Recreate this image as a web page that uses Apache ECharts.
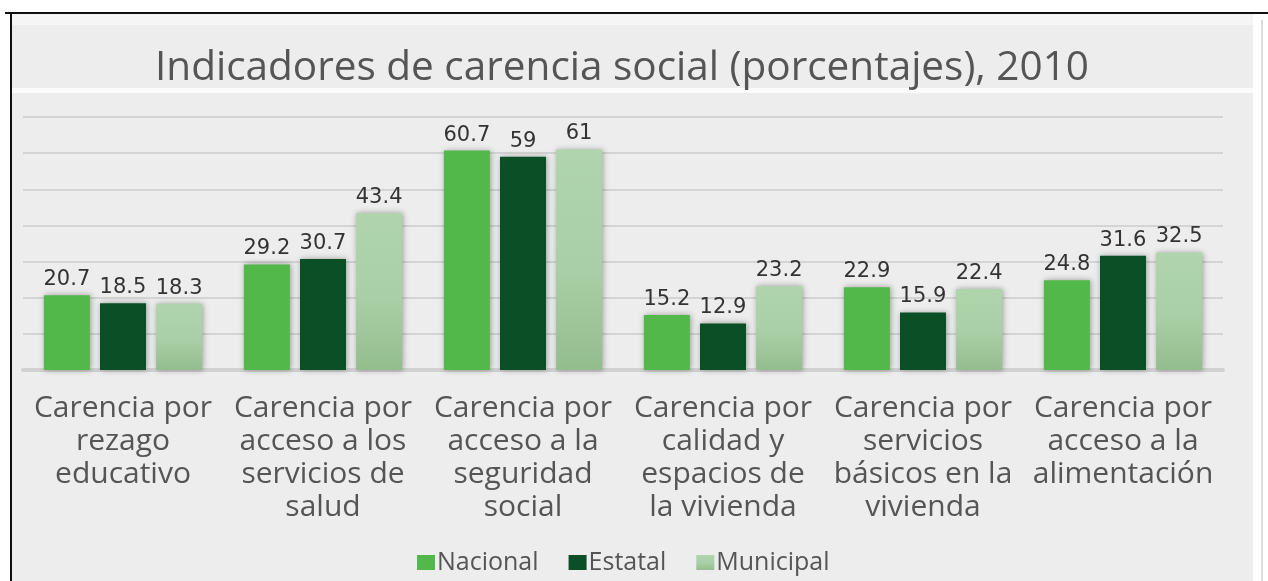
<!DOCTYPE html>
<html>
<head>
<meta charset="utf-8">
<script src="https://cdn.jsdelivr.net/npm/echarts@6/dist/echarts.min.js"></script>
<style>
html,body{margin:0;padding:0;background:#ffffff;}
#c{width:1268px;height:581px;}
</style>
</head>
<body>
<div id="c"></div>
<script>
const categories = [
  "Carencia por\nrezago\neducativo",
  "Carencia por\nacceso a los\nservicios de\nsalud",
  "Carencia por\nacceso a la\nseguridad\nsocial",
  "Carencia por\ncalidad y\nespacios de\nla vivienda",
  "Carencia por\nservicios\nbásicos en la\nvivienda",
  "Carencia por\nacceso a la\nalimentación"
];
const seriesNames = ["Nacional", "Estatal", "Municipal"];
const nacional = [20.7, 29.2, 60.7, 15.2, 22.9, 24.8];
const estatal = [18.5, 30.7, 59, 12.9, 15.9, 31.6];
const municipal = [18.3, 43.4, 61, 23.2, 22.4, 32.5];
const titleText = "Indicadores de carencia social (porcentajes), 2010";

const chart = echarts.init(document.getElementById('c'), null, {renderer: 'canvas'});

const labelStyle = {
  show: true,
  position: 'top',
  distance: 5,
  fontFamily: 'DejaVu Sans',
  fontSize: 21,
  color: '#333333'
};
const shadow = {shadowColor: 'rgba(0,0,0,0.35)', shadowBlur: 6, shadowOffsetX: 1, shadowOffsetY: 0};

chart.setOption({
  backgroundColor: '#ffffff',
  animation: false,
  graphic: [
    {type: 'rect', z: -10, shape: {x: 12, y: 14, width: 1241, height: 567}, style: {fill: '#ecedec'}},
    {type: 'rect', z: -9, shape: {x: 12, y: 14, width: 1241, height: 11}, style: {fill: '#f4f5f4'}},
    {type: 'rect', z: -9, shape: {x: 12, y: 88, width: 1241, height: 5}, style: {fill: '#fafbfa'}},
    {type: 'rect', z: -9, shape: {x: 1261, y: 20, width: 2, height: 561}, style: {fill: '#dcdddc'}},
    {type: 'rect', z: -8, shape: {x: 5, y: 12, width: 1263, height: 2}, style: {fill: '#111111'}},
    {type: 'rect', z: -8, shape: {x: 10, y: 12, width: 2, height: 569}, style: {fill: '#111111'}}
  ],
  title: {
    text: titleText,
    left: 150,
    top: 43,
    textStyle: {fontFamily: 'Open Sans', fontSize: 40.5, fontWeight: 'normal', color: '#555555'}
  },
  legend: {
    data: seriesNames,
    left: 412,
    top: 545,
    itemWidth: 18,
    itemHeight: 15,
    itemGap: 30,
    icon: 'rect',
    textStyle: {fontFamily: 'Open Sans', fontSize: 25, color: '#555555', padding: [0, 0, 0, -3]}
  },
  grid: {left: 23, right: 45, top: 117, bottom: 211, containLabel: false},
  xAxis: {
    type: 'category',
    data: categories,
    axisLine: {show: true, lineStyle: {color: '#d0d1d0', width: 4}},
    axisTick: {show: false},
    axisLabel: {
      interval: 0,
      margin: 22,
      fontFamily: 'Open Sans',
      fontSize: 30,
      lineHeight: 33,
      color: '#555555'
    }
  },
  yAxis: {
    type: 'value',
    min: 0,
    max: 70,
    interval: 10,
    axisLine: {show: false},
    axisTick: {show: false},
    axisLabel: {show: false},
    splitLine: {show: true, lineStyle: {color: '#d3d4d3', width: 2}}
  },
  series: [
    {
      name: seriesNames[0], type: 'bar', data: nacional, barWidth: 46, barGap: '22%',
      itemStyle: Object.assign({color: '#52b84a'}, shadow),
      label: labelStyle
    },
    {
      name: seriesNames[1], type: 'bar', data: estatal, barWidth: 46, barGap: '22%',
      itemStyle: Object.assign({color: '#0a4f25'}, shadow),
      label: labelStyle
    },
    {
      name: seriesNames[2], type: 'bar', data: municipal, barWidth: 46, barGap: '22%',
      itemStyle: Object.assign({
        color: new echarts.graphic.LinearGradient(0, 0, 0, 1, [
          {offset: 0, color: '#b0d5ad'},
          {offset: 0.55, color: '#a8cfa5'},
          {offset: 1, color: '#94bd8e'}
        ], false)
      }, shadow),
      label: labelStyle
    }
  ]
});
</script>
</body>
</html>
